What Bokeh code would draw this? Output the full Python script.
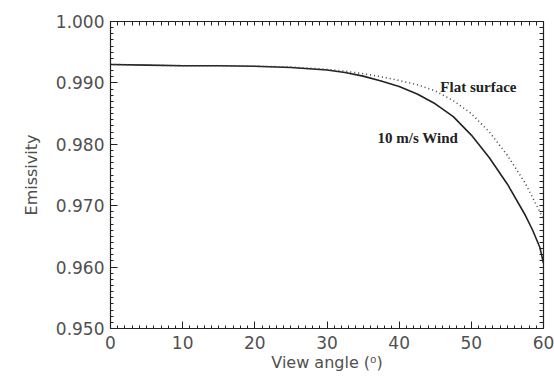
from bokeh.plotting import figure
from bokeh.models import LinearAxis, Range1d, FixedTicker, Label, NumeralTickFormatter
from bokeh.embed import file_html
from bokeh.resources import INLINE

# Data
angle = [0, 5, 10, 15, 20, 25, 30, 32.5, 35, 37.5, 40, 42.5, 45, 47.5, 50, 52.5, 55,
         57.5, 58.5, 59.5, 60]
wind = [0.9930, 0.9929, 0.9928, 0.9928, 0.9927, 0.9925, 0.9921, 0.9917, 0.9911, 0.9903,
        0.9894, 0.9882, 0.9866, 0.9845, 0.9815, 0.9778, 0.9735, 0.9684, 0.9660, 0.9632,
        0.9606]
flat = [0.9930, 0.9929, 0.9928, 0.9928, 0.9927, 0.9926, 0.9922, 0.9919, 0.9915, 0.9910,
        0.9904, 0.9897, 0.9887, 0.9871, 0.9850, 0.9820, 0.9782, 0.9736, 0.9713, 0.9690,
        0.9677]
x_ticks = [0, 10, 20, 30, 40, 50, 60]
y_ticks = [0.950, 0.960, 0.970, 0.980, 0.990, 1.000]

FONT = "DejaVu Sans"
GREY = "#505050"

p = figure(width=554, height=381, output_backend="svg", toolbar_location=None,
           x_range=Range1d(0, 60), y_range=Range1d(0.950, 1.000),
           min_border_left=110, min_border_right=11, min_border_top=21, min_border_bottom=53)
p.grid.visible = False
p.outline_line_color = "#222222"
p.outline_line_width = 1.2
p.background_fill_color = "white"
p.border_fill_color = "white"

p.line(angle, wind, line_color="#222222", line_width=1.6)
p.line(angle, flat, line_color="#444444", line_width=1.6, line_dash="1 3")

x_minor = [i for i in range(0, 61)]
y_minor = [round(0.950 + i * 0.001, 3) for i in range(0, 51)]


def style(ax):
    ax.major_tick_in = 7
    ax.major_tick_out = 0
    ax.minor_tick_in = 3
    ax.minor_tick_out = 0
    ax.axis_line_color = "#222222"
    ax.major_tick_line_color = "#222222"
    ax.minor_tick_line_color = "#222222"
    ax.major_label_text_font = FONT
    ax.major_label_text_font_size = "17px"
    ax.major_label_text_color = GREY
    ax.axis_label_text_font = FONT
    ax.axis_label_text_font_size = "16px"
    ax.axis_label_text_font_style = "normal"
    ax.axis_label_text_color = GREY


xa = p.xaxis[0]
ya = p.yaxis[0]
style(xa)
style(ya)
xa.ticker = FixedTicker(ticks=x_ticks, minor_ticks=x_minor)
ya.ticker = FixedTicker(ticks=y_ticks, minor_ticks=y_minor)
xa.axis_label = "View angle (\u2070)"
ya.axis_label = "Emissivity"
ya.formatter = NumeralTickFormatter(format="0.000")
xa.major_label_standoff = 7
ya.major_label_standoff = 6
xa.axis_label_standoff = 1
ya.axis_label_standoff = 12

# top and right frame ticks (no labels)
top = LinearAxis(ticker=FixedTicker(ticks=[], minor_ticks=x_minor))
style(top)
top.minor_tick_in = 4
p.add_layout(top, "above")
right = LinearAxis(ticker=FixedTicker(ticks=[], minor_ticks=y_minor))
style(right)
right.minor_tick_in = 4
p.add_layout(right, "right")

p.add_layout(Label(x=45.7, y=0.9893, text="Flat surface", text_font="Liberation Serif",
                   text_font_style="bold", text_font_size="15px", text_color="#222222",
                   text_baseline="alphabetic"))
p.add_layout(Label(x=37.0, y=0.9811, text="10 m/s Wind", text_font="Liberation Serif",
                   text_font_style="bold", text_font_size="15px", text_color="#222222",
                   text_baseline="alphabetic"))

open("out.html", "w").write(file_html(p, INLINE))
